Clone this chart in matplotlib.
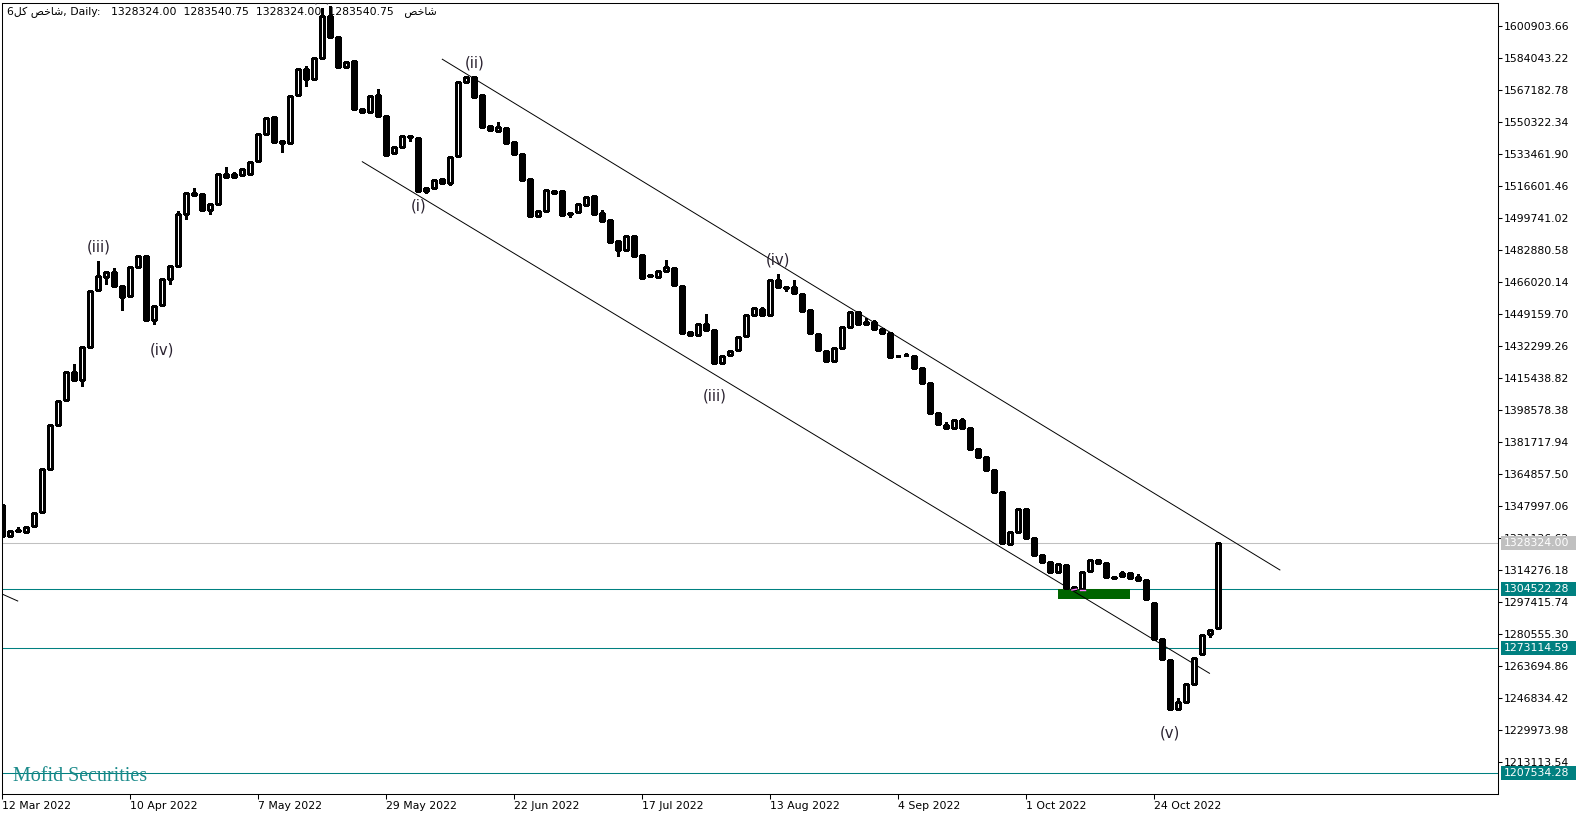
import matplotlib
matplotlib.use("Agg")
import matplotlib.pyplot as plt
from matplotlib.patches import Rectangle
import matplotlib.transforms as mtransforms

plt.rcParams['font.family'] = ['DejaVu Sans']

# ---------------- data (daily OHLC, one entry per bar) ----------------
opens = [1348500, 1332200, 1335400, 1334300, 1337500, 1344800, 1367500, 1390700, 1403800, 1418600,
         1414400, 1431800, 1461800, 1468700, 1471300, 1463900, 1458600, 1473900, 1479700, 1446000,
         1453900, 1467600, 1474500, 1501800, 1512900, 1512400, 1504000, 1507100, 1522900, 1521300,
         1522400, 1522900, 1529800, 1544000, 1553000, 1540300, 1539300, 1564500, 1578200, 1573000,
         1584000, 1606200, 1595100, 1579300, 1582500, 1557200, 1555600, 1564500, 1553500, 1534000,
         1537200, 1542900, 1541900, 1514000, 1515500, 1520300, 1518200, 1532400, 1571400, 1574000,
         1564500, 1548200, 1545600, 1547200, 1539800, 1533500, 1520300, 1500800, 1503400, 1514000,
         1514000, 1501800, 1502900, 1506600, 1511300, 1502400, 1498700, 1487600, 1482900, 1490300,
         1480200, 1469700, 1468700, 1471800, 1473400, 1463900, 1439700, 1438100, 1443900, 1440700,
         1423300, 1427600, 1430200, 1437600, 1448600, 1451800, 1448600, 1467100, 1463400, 1463400,
         1459700, 1451300, 1438600, 1429700, 1424400, 1431200, 1442300, 1450200, 1443900, 1444900,
         1441300, 1439100, 1427000, 1427600, 1427000, 1420700, 1412800, 1397000, 1390700, 1389100,
         1393300, 1389100, 1378000, 1373800, 1367000, 1355400, 1328000, 1334300, 1346400, 1331100,
         1322200, 1318500, 1313200, 1316900, 1305300, 1304300, 1313700, 1319500, 1318000, 1310600,
         1311100, 1312700, 1310600, 1309000, 1296900, 1277900, 1266900, 1241000, 1244700, 1254200,
         1270000, 1280600, 1283540.75]
highs = [1348500, 1334800, 1336900, 1337500, 1344300, 1367500, 1390700, 1403300, 1418600, 1422800,
         1431800, 1461300, 1477100, 1471300, 1473400, 1463900, 1473900, 1479700, 1479700, 1453400,
         1467600, 1474500, 1503400, 1512900, 1515500, 1512400, 1507100, 1522900, 1526600, 1524000,
         1525600, 1529200, 1544000, 1552400, 1553000, 1540300, 1564000, 1578200, 1579800, 1584000,
         1610400, 1611400, 1595100, 1581900, 1582500, 1557200, 1564000, 1567700, 1553500, 1537200,
         1542900, 1542900, 1541900, 1515500, 1519800, 1520300, 1531900, 1571400, 1574000, 1574000,
         1564500, 1548200, 1550300, 1547200, 1539800, 1533500, 1520300, 1503400, 1515000, 1514000,
         1514000, 1502400, 1507100, 1510800, 1511300, 1504000, 1498700, 1487600, 1490300, 1490300,
         1480200, 1470200, 1471800, 1477600, 1473400, 1463900, 1439700, 1443900, 1449200, 1440700,
         1427000, 1429700, 1437000, 1448600, 1452800, 1452800, 1467100, 1470200, 1463400, 1467100,
         1459700, 1451300, 1438600, 1429700, 1431200, 1442300, 1450200, 1450200, 1447100, 1446000,
         1441300, 1439100, 1427000, 1428600, 1427000, 1420700, 1412800, 1397000, 1392300, 1393300,
         1394400, 1389100, 1378000, 1373800, 1367000, 1355400, 1334300, 1346400, 1346400, 1331100,
         1322200, 1318500, 1317400, 1316900, 1305800, 1313200, 1319500, 1320100, 1318000, 1310600,
         1313700, 1312700, 1312200, 1309000, 1296900, 1277900, 1266900, 1246800, 1254200, 1267900,
         1280000, 1282700, 1328324.00]
lows = [1332200, 1331700, 1334800, 1334300, 1336900, 1344800, 1367500, 1390700, 1403800, 1414400,
        1411200, 1431800, 1461800, 1465000, 1463900, 1451300, 1458600, 1473900, 1446000, 1443900,
        1453900, 1465000, 1474500, 1499200, 1511900, 1504000, 1501800, 1507100, 1521300, 1521300,
        1522400, 1522900, 1529800, 1544000, 1539800, 1534500, 1539300, 1564500, 1569300, 1573000,
        1584000, 1595100, 1579300, 1579300, 1557200, 1555600, 1555600, 1553500, 1532400, 1534000,
        1537200, 1540300, 1514000, 1512900, 1515500, 1518200, 1517100, 1532400, 1571400, 1563500,
        1547700, 1546100, 1545600, 1539300, 1533500, 1519800, 1500800, 1500300, 1503400, 1512400,
        1501300, 1500300, 1502900, 1506600, 1501800, 1498200, 1487100, 1479700, 1482900, 1479700,
        1468100, 1468700, 1468700, 1471800, 1464400, 1439100, 1438100, 1438100, 1440700, 1423300,
        1423300, 1427600, 1430200, 1437600, 1448600, 1448600, 1448600, 1463400, 1461300, 1460200,
        1450700, 1439100, 1430200, 1424400, 1424400, 1431200, 1442300, 1443900, 1443900, 1441300,
        1439100, 1426500, 1426700, 1427300, 1420700, 1412800, 1397000, 1391200, 1389100, 1389100,
        1389100, 1378000, 1373800, 1367000, 1355400, 1328300, 1328000, 1334300, 1331100, 1322200,
        1318500, 1313200, 1313200, 1304800, 1304300, 1304300, 1313700, 1318000, 1310600, 1310100,
        1311100, 1310100, 1309000, 1299000, 1277900, 1267400, 1241000, 1241000, 1244700, 1254200,
        1270000, 1279000, 1283540.75]
closes = [1332200, 1334800, 1334800, 1336900, 1344300, 1367500, 1390700, 1403300, 1418600, 1414400,
          1431800, 1461300, 1469200, 1471300, 1463900, 1458100, 1473900, 1479700, 1446000, 1453400,
          1467600, 1474500, 1501800, 1512900, 1511900, 1504000, 1507100, 1522900, 1521300, 1522900,
          1525600, 1529200, 1544000, 1552400, 1539800, 1539300, 1564000, 1578200, 1573000, 1584000,
          1606200, 1595100, 1579300, 1581900, 1557200, 1555600, 1564000, 1553500, 1532900, 1537200,
          1542900, 1542400, 1514000, 1515500, 1519800, 1518200, 1531900, 1571400, 1574000, 1563500,
          1547700, 1546100, 1547700, 1539300, 1533500, 1519800, 1500800, 1503400, 1514500, 1512900,
          1501300, 1502400, 1507100, 1510800, 1501800, 1498200, 1487100, 1482900, 1490300, 1479700,
          1468100, 1469200, 1471800, 1473900, 1464400, 1439100, 1438100, 1443900, 1440700, 1423300,
          1427000, 1429700, 1437000, 1448600, 1452300, 1448600, 1467100, 1463400, 1463100, 1460200,
          1450700, 1439100, 1430200, 1424400, 1431200, 1442300, 1450200, 1443900, 1444900, 1441300,
          1439100, 1426500, 1426800, 1427300, 1420700, 1412800, 1397000, 1391200, 1389100, 1393300,
          1389100, 1378000, 1373800, 1367000, 1355400, 1328300, 1334300, 1346400, 1331100, 1322200,
          1318500, 1313200, 1317400, 1304800, 1304300, 1313200, 1319500, 1318000, 1310600, 1310300,
          1312700, 1310100, 1309000, 1299000, 1277900, 1267400, 1241000, 1244700, 1254200, 1267900,
          1280000, 1282700, 1328324.00]

# axis labels
date_tick_bars = [0, 16, 32, 48, 64, 80, 96, 112, 128, 144]
date_tick_labels = ["12 Mar 2022", "10 Apr 2022", "7 May 2022", "29 May 2022", "22 Jun 2022",
                    "17 Jul 2022", "13 Aug 2022", "4 Sep 2022", "1 Oct 2022", "24 Oct 2022"]
price_ticks = [1213113.54, 1229973.98, 1246834.42, 1263694.86, 1280555.30, 1297415.74,
               1314276.18, 1331136.62, 1347997.06, 1364857.50, 1381717.94, 1398578.38,
               1415438.82, 1432299.26, 1449159.70, 1466020.14, 1482880.58, 1499741.02,
               1516601.46, 1533461.90, 1550322.34, 1567182.78, 1584043.22, 1600903.66]

# horizontal levels
level_prices = [1304522.28, 1273114.59, 1207534.28]
last_price = 1328324.00

# channel lines (bar, price) endpoints
upper_channel = [(55.0, 1583400), (159.7, 1314300)]
lower_channel = [(45.0, 1529400), (150.9, 1259850)]
left_stub = [(0.05, 1301470), (1.93, 1297940)]
zone_bars = (132.0, 141.0)
zone_prices = (1299150, 1304100)

# Elliott wave labels (text, bar, price)
wave_labels = [("(iii)", 12, 1484500), ("(iv)", 20, 1430200), ("(v)", 40, 1616200),
               ("(i)", 52, 1506100), ("(ii)", 59, 1581400), ("(iii)", 89, 1406200),
               ("(iv)", 97, 1477600), ("(v)", 146, 1228400)]

title_text = "6\ufede\ufb90 \ufeba\ufea7\ufe8e\ufeb7, Daily:   1328324.00  1283540.75  1328324.00  1283540.75   \ufeba\ufea7\ufe8e\ufeb7"

# ---------------- figure ----------------
W, H = 1589, 818
fig = plt.figure(figsize=(W / 100, H / 100), dpi=100)
L, R, T, B = 2, 1498, 3, 794
ax = fig.add_axes([L / W, 1 - B / H, (R - L) / W, (B - T) / H])

px = 16860.44 / 32.0      # price per pixel
y_top = 1600903.66 + 23 * px
y_bot = 1600903.66 - 768 * px
ax.set_ylim(y_bot, y_top)
bar_px = 8.0
x0 = 2.3
ax.set_xlim((L - x0) / bar_px, (R - x0) / bar_px)

lw = 0.75

# horizontal levels
for v in level_prices:
    ax.axhline(v, color="#008080", lw=lw, zorder=1)
ax.axhline(last_price, color="#c0c0c0", lw=lw, zorder=1)

# zone rectangle
ax.add_patch(Rectangle((zone_bars[0], zone_prices[0]), zone_bars[1] - zone_bars[0],
                       zone_prices[1] - zone_prices[0], facecolor="#006400",
                       edgecolor="none", zorder=1.5))

# channel lines
for seg in (upper_channel, lower_channel, left_stub):
    ax.plot([seg[0][0], seg[1][0]], [seg[0][1], seg[1][1]], color="black", lw=0.7, zorder=2)

# small trade marks
ax.plot([133.7, 134.3], [1303700, 1304200], color="#ff7fff", lw=1.0, zorder=5)
ax.plot([134.7, 135.4], [1304000, 1304000], color="#ff7fff", lw=1.0, zorder=5)

# candles
bw = 0.48
for i in range(len(opens)):
    o, h, l, c = opens[i], highs[i], lows[i], closes[i]
    ax.vlines(i, l, h, color="black", lw=lw, zorder=3, antialiased=False)
    bull = c >= o
    lo, hi = min(o, c), max(o, c)
    ax.add_patch(Rectangle((i - bw / 2, lo), bw, max(hi - lo, px * 0.3),
                           facecolor="white" if bull else "black", edgecolor="black",
                           lw=lw, zorder=4, antialiased=False))

# wave labels
for txt, b, p in wave_labels:
    ax.text(b, p, txt, ha="center", va="center", fontsize=10.7, color="#2a2230", zorder=6,
            clip_on=True)

# axes styling
for s in ax.spines.values():
    s.set_color("black")
    s.set_linewidth(lw)
ax.yaxis.tick_right()
ax.set_yticks(price_ticks)
ax.set_yticklabels([f"{v:.2f}" for v in price_ticks])
ax.set_xticks(date_tick_bars)
ax.set_xticklabels(date_tick_labels, ha="left")
ax.tick_params(axis="y", direction="out", length=3, width=lw, pad=1.5, labelsize=7.8,
               colors="black")
ax.tick_params(axis="x", direction="out", length=3.6, width=lw, pad=1.5, labelsize=7.8,
               colors="black")

# price boxes on the right axis
trans = mtransforms.blended_transform_factory(fig.transFigure, ax.transData)
box_specs = [(last_price, "#c0c0c0")] + [(v, "#008080") for v in level_prices]
for v, col in box_specs:
    ax.add_patch(Rectangle((1501 / W, v - 7 * px), 75 / W, 14 * px, transform=trans,
                           facecolor=col, edgecolor="none", clip_on=False, zorder=10))
    ax.text(1504 / W, v, f"{v:.2f}", transform=trans, ha="left", va="center",
            fontsize=7.8, color="white", clip_on=False, zorder=11)

# title and watermark
fig.text(7 / W, 1 - 12 / H, title_text, ha="left", va="center", fontsize=7.8, color="black")
fig.text(12.7 / W, 1 - 781 / H, "Mofid Securities", ha="left", va="baseline",
         family="Liberation Serif", fontsize=14.4, color="#1a8a8a")

fig.savefig("out.png", dpi=100, facecolor="white")
